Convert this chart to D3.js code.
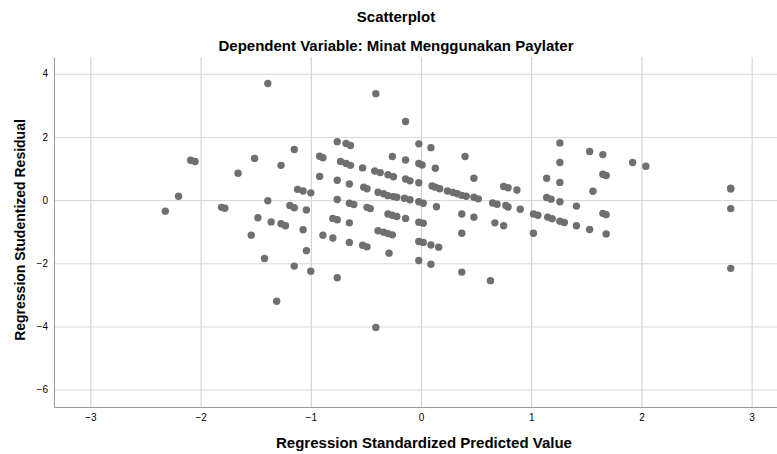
<!DOCTYPE html>
<html>
<head>
<meta charset="utf-8">
<script src="https://cdn.jsdelivr.net/npm/d3@7"></script>
<style>
  body { margin: 0; background: #fff; }
  text { font-family: Arial, "Liberation Sans", sans-serif; fill: #000; }
  .title { font-weight: bold; font-size: 15px; }
  .axisTitle { font-weight: bold; font-size: 15px; }
  .tick text { font-size: 10px; }
</style>
</head>
<body>
<script>
const width = 777
const height = 454

const titleText = 'Scatterplot'
const subtitleText = 'Dependent Variable: Minat Menggunakan Paylater'
const xLabel = 'Regression Standardized Predicted Value'
const yLabel = 'Regression Studentized Residual'

const xTicks = [-3, -2, -1, 0, 1, 2, 3]
const yTicks = [4, 2, 0, -2, -4, -6]

// Regression Standardized Predicted Value
const predicted = [
  -1.39, -0.76, -0.68, -0.64, -1.15, -2.09, -2.05, -1.51, -0.92, -0.89,
  -0.73, -0.68, -0.64, -1.27, -1.66, -0.92, -0.76, -0.65, -1.12, -1.07,
  -1.00, -2.20, -1.39, -0.76, -0.65, -0.61, -1.81, -1.78, -1.19, -1.15,
  -1.04, -2.32, -1.48, -1.36, -1.27, -1.23, -0.80, -0.76, -0.65, -1.54,
  -1.07, -0.89, -0.80, -0.65, -1.04, -1.42, -1.15, -1.00, -0.76, -1.31,
  -0.41, -0.14, -0.02, 0.09, 1.26, -0.26, -0.14, 0.40, -0.53, -0.02,
  0.01, 0.13, 1.26, -0.42, -0.37, -0.30, -0.25, 0.48, -0.14, -0.10,
  -0.02, 1.14, 1.26, -0.52, -0.49, 0.10, 0.13, 0.17, 0.75, 0.79,
  0.87, -0.39, -0.34, -0.30, -0.25, -0.22, 0.24, 0.29, 0.33, 0.37,
  0.41, -0.15, -0.10, -0.02, 0.02, 0.48, 0.52, 1.14, 1.18, 1.26,
  0.65, 0.69, 0.77, 0.79, 0.90, -0.49, -0.46, 0.14, 1.02, 1.06,
  1.15, 1.19, 1.26, 1.30, -0.30, -0.26, -0.22, -0.14, -0.02, 0.02,
  0.37, 0.48, 0.67, 0.75, -0.39, -0.34, -0.30, -0.26, 0.37, 1.02,
  -0.53, -0.49, -0.02, 0.02, 0.09, 0.16, -0.29, -0.02, 0.09, 0.37,
  0.63, -0.41, 1.53, 1.65, 1.92, 2.04, 1.65, 1.68, 1.56, 2.81,
  2.81, 2.81, 1.41, 1.65, 1.68, 1.41, 1.53, 1.68, 2.81
]

// Regression Studentized Residual, same order as predicted
const residual = [
  3.69, 1.85, 1.79, 1.73, 1.60, 1.26, 1.22, 1.32, 1.39, 1.34,
  1.22, 1.16, 1.10, 1.10, 0.85, 0.75, 0.63, 0.51, 0.34, 0.29,
  0.23, 0.12, -0.02, 0.02, -0.10, -0.14, -0.23, -0.26, -0.17, -0.24,
  -0.31, -0.35, -0.56, -0.69, -0.75, -0.81, -0.58, -0.62, -0.72, -1.11,
  -0.94, -1.11, -1.20, -1.34, -1.60, -1.85, -2.09, -2.25, -2.46, -3.20,
  3.37, 2.49, 1.78, 1.66, 1.81, 1.38, 1.27, 1.38, 1.02, 1.16,
  1.11, 1.01, 1.19, 0.92, 0.87, 0.80, 0.74, 0.69, 0.67, 0.61,
  0.55, 0.69, 0.56, 0.41, 0.36, 0.45, 0.41, 0.36, 0.43, 0.39,
  0.32, 0.25, 0.20, 0.14, 0.11, 0.09, 0.29, 0.24, 0.20, 0.15,
  0.12, 0.06, 0.01, -0.05, -0.10, 0.09, 0.04, 0.08, 0.03, -0.05,
  -0.09, -0.13, -0.17, -0.22, -0.29, -0.23, -0.27, -0.21, -0.44, -0.48,
  -0.54, -0.59, -0.67, -0.71, -0.44, -0.48, -0.52, -0.58, -0.70, -0.73,
  -0.44, -0.54, -0.72, -0.81, -0.97, -1.02, -1.06, -1.10, -1.05, -1.05,
  -1.43, -1.48, -1.31, -1.34, -1.42, -1.49, -1.68, -1.91, -2.03, -2.28,
  -2.55, -4.03, 1.54, 1.44, 1.19, 1.07, 0.82, 0.78, 0.28, 0.38,
  0.35, -0.27, -0.19, -0.42, -0.46, -0.81, -0.93, -1.07, -2.16
]

const points = predicted.map((x, i) => ({x, y: residual[i]}))

const plot = {left: 54, right: 777, top: 57, bottom: 407}

const x = d3.scaleLinear().domain([-3.33, 3.23]).range([plot.left, plot.right])
const y = d3.scaleLinear().domain([-6.55, 4.53]).range([plot.bottom, plot.top])

const svg = d3.select('body').append('svg')
  .attr('width', width)
  .attr('height', height)

// Grid lines
svg.append('g').selectAll('line.vgrid')
  .data(xTicks)
  .enter().append('line').classed('vgrid', true)
  .attr('x1', d => x(d) + 0.5).attr('x2', d => x(d) + 0.5)
  .attr('y1', plot.top).attr('y2', plot.bottom)
  .attr('stroke', '#cccccc')

svg.append('g').selectAll('line.hgrid')
  .data(yTicks)
  .enter().append('line').classed('hgrid', true)
  .attr('x1', plot.left).attr('x2', plot.right)
  .attr('y1', d => y(d) + 0.5).attr('y2', d => y(d) + 0.5)
  .attr('stroke', '#d6d6d6')

// Axes, labels as plain integers
const xAxis = svg.append('g')
  .attr('transform', `translate(0,${plot.bottom})`)
  .call(d3.axisBottom(x).tickValues(xTicks).tickFormat(d3.format('d')).tickSize(0).tickPadding(7))
xAxis.select('.domain').attr('stroke', '#9a9a9a')

const yAxis = svg.append('g')
  .attr('transform', `translate(${plot.left},0)`)
  .call(d3.axisLeft(y).tickValues(yTicks).tickFormat(d3.format('d')).tickSize(0).tickPadding(6))
yAxis.select('.domain').attr('stroke', '#9a9a9a')

svg.selectAll('.tick text').attr('fill', '#000')

// Points
svg.append('g').selectAll('circle.point')
  .data(points)
  .enter().append('circle').classed('point', true)
  .attr('cx', d => x(d.x))
  .attr('cy', d => y(d.y))
  .attr('r', 3.7)
  .attr('fill', '#6f6f6f')

// Titles
svg.append('text').classed('title', true)
  .attr('x', 396).attr('y', 22)
  .attr('text-anchor', 'middle')
  .text(titleText)

svg.append('text').classed('title', true)
  .attr('x', 396).attr('y', 51)
  .attr('text-anchor', 'middle')
  .text(subtitleText)

svg.append('text').classed('axisTitle', true)
  .attr('x', 424).attr('y', 448)
  .attr('text-anchor', 'middle')
  .text(xLabel)

svg.append('text').classed('axisTitle', true)
  .style('font-size', '14px')
  .attr('transform', 'translate(25,230) rotate(-90)')
  .attr('text-anchor', 'middle')
  .text(yLabel)
</script>
</body>
</html>
